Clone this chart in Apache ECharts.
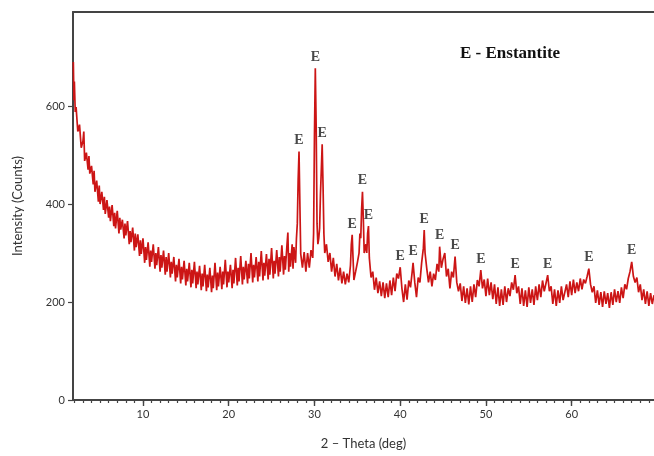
<!DOCTYPE html>
<html>
<head>
<meta charset="utf-8">
<script src="https://cdn.jsdelivr.net/npm/echarts@6/dist/echarts.min.js"></script>
<style>
  html, body { margin: 0; padding: 0; background: #fff; }
  #chart { width: 654px; height: 456px; }
</style>
</head>
<body>
<div id="chart"></div>
<script>
// XRD scan, [2-theta (deg), intensity (counts)]
const scanLowAngle = [
  [1.88, 690], [1.95, 612], [2.0, 650], [2.1, 588], [2.2, 598], [2.4, 548], [2.6, 562], [2.8, 515],
  [3.0, 528], [3.1, 548], [3.2, 488], [3.4, 505], [3.6, 470], [3.7, 498], [3.8, 462], [4.0, 478],
  [4.2, 440], [4.3, 468], [4.4, 425], [4.6, 448], [4.8, 405], [4.9, 438], [5.0, 400], [5.2, 425],
  [5.4, 388], [5.5, 415], [5.6, 380], [5.8, 408], [6.0, 372], [6.1, 395], [6.2, 365], [6.4, 398],
  [6.6, 355], [6.7, 382], [6.8, 350], [7.0, 386], [7.2, 340], [7.3, 372], [7.4, 348], [7.6, 368],
  [7.8, 330], [7.9, 360], [8.0, 336], [8.2, 365], [8.4, 318], [8.5, 345], [8.6, 322], [8.8, 352],
  [9.0, 305], [9.1, 340], [9.2, 312], [9.4, 338], [9.6, 294], [9.7, 326], [9.8, 298], [10.0, 330],
  [10.2, 280], [10.3, 312], [10.4, 286], [10.6, 322], [10.8, 272], [10.9, 305], [11.0, 282], [11.2, 318],
  [11.4, 268], [11.5, 300], [11.6, 275], [11.8, 312], [12.0, 262], [12.1, 296], [12.2, 270], [12.4, 305],
  [12.6, 256], [12.7, 292], [12.8, 262], [13.0, 300], [13.2, 250], [13.3, 282], [13.4, 258], [13.6, 292],
  [13.8, 242], [13.9, 276], [14.0, 250], [14.2, 288], [14.4, 238], [14.5, 272], [14.6, 246], [14.8, 284],
  [15.0, 234], [15.1, 268], [15.2, 242], [15.4, 280], [15.6, 230], [15.7, 266], [15.8, 238], [16.0, 282],
  [16.2, 228], [16.3, 262], [16.4, 236], [16.6, 274], [16.8, 224], [16.9, 258], [17.0, 232], [17.2, 276],
  [17.4, 222], [17.5, 256], [17.6, 230], [17.8, 270], [18.0, 220], [18.1, 254], [18.2, 228], [18.4, 280],
  [18.6, 224], [18.7, 260], [18.8, 232], [19.0, 272], [19.2, 226], [19.3, 262], [19.4, 236], [19.6, 286],
  [19.8, 230], [19.9, 262], [20.0, 240], [20.2, 276], [20.4, 228], [20.5, 266], [20.6, 238], [20.8, 290],
  [21.0, 234], [21.1, 270], [21.2, 242], [21.4, 294], [21.6, 236], [21.7, 272], [21.8, 246], [22.0, 284],
  [22.2, 238], [22.3, 278], [22.4, 248], [22.6, 300], [22.8, 240], [22.9, 276], [23.0, 250], [23.2, 292],
  [23.4, 242], [23.5, 282], [23.6, 252], [23.8, 304], [24.0, 244], [24.1, 280], [24.2, 254], [24.4, 298],
  [24.6, 246], [24.7, 288], [24.8, 256], [25.0, 310], [25.2, 248], [25.3, 284], [25.4, 258], [25.6, 306],
  [25.8, 252], [25.9, 292], [26.0, 262], [26.2, 316], [26.4, 256], [26.5, 294], [26.6, 266], [26.8, 318],
  [26.9, 342], [27.0, 262], [27.1, 300], [27.2, 272], [27.4, 318], [27.5, 268], [27.6, 312], [27.8, 280]
];

const scanPeakZone = [
  [27.9, 330], [28.0, 360], [28.1, 450], [28.2, 507], [28.3, 400], [28.4, 298], [28.6, 270], [28.8, 302],
  [29.0, 262], [29.2, 300], [29.4, 270], [29.6, 306], [29.8, 290], [29.9, 340], [30.0, 540], [30.1, 677],
  [30.2, 560], [30.3, 360], [30.4, 318], [30.5, 330], [30.6, 350], [30.7, 420], [30.8, 470], [30.9, 522],
  [31.0, 440], [31.1, 340], [31.2, 300], [31.4, 318], [31.6, 282], [31.8, 300], [32.0, 262], [32.2, 290],
  [32.4, 252], [32.6, 278], [32.8, 244], [33.0, 270], [33.2, 238], [33.4, 262], [33.6, 236], [33.8, 258],
  [34.0, 240], [34.2, 275], [34.3, 318], [34.4, 337], [34.5, 290], [34.6, 245], [34.8, 262], [35.0, 280],
  [35.2, 300], [35.3, 340], [35.4, 330], [35.5, 390], [35.6, 425], [35.7, 370], [35.8, 300], [36.0, 318],
  [36.1, 300], [36.2, 340], [36.3, 355], [36.4, 290], [36.6, 250], [36.8, 262], [37.0, 225]
];

const scanHighAngle = [
  [37.2, 250], [37.4, 218], [37.6, 242], [37.8, 212], [38.0, 240], [38.2, 208], [38.4, 238], [38.6, 210],
  [38.8, 244], [39.0, 214], [39.2, 250], [39.4, 222], [39.6, 258], [39.8, 248], [40.0, 271], [40.2, 228],
  [40.4, 200], [40.6, 236], [40.8, 205], [41.0, 244], [41.2, 230], [41.4, 262], [41.5, 280], [41.7, 240],
  [41.9, 210], [42.1, 250], [42.3, 240], [42.5, 280], [42.7, 310], [42.8, 347], [42.9, 300], [43.1, 268],
  [43.3, 240], [43.5, 262], [43.7, 232], [43.9, 258], [44.1, 245], [44.3, 278], [44.5, 262], [44.6, 313],
  [44.8, 270], [45.0, 288], [45.2, 300], [45.4, 252], [45.6, 268], [45.8, 228], [46.0, 262], [46.2, 250],
  [46.4, 293], [46.6, 240], [46.8, 222], [47.0, 238], [47.2, 202], [47.4, 232], [47.6, 198], [47.8, 228],
  [48.0, 195], [48.2, 232], [48.4, 200], [48.6, 236], [48.8, 210], [49.0, 245], [49.2, 232], [49.4, 265],
  [49.6, 228], [49.8, 246], [50.0, 212], [50.2, 248], [50.4, 214], [50.6, 240], [50.8, 206], [51.0, 236],
  [51.2, 196], [51.4, 230], [51.6, 192], [51.8, 226], [52.0, 194], [52.2, 232], [52.4, 200], [52.6, 228],
  [52.8, 212], [53.0, 240], [53.2, 225], [53.4, 255], [53.6, 218], [53.8, 232], [54.0, 196], [54.2, 228],
  [54.4, 192], [54.6, 224], [54.8, 190], [55.0, 230], [55.2, 198], [55.4, 226], [55.6, 194], [55.8, 232],
  [56.0, 204], [56.2, 236], [56.4, 210], [56.6, 244], [56.8, 222], [57.0, 238], [57.2, 255], [57.4, 222],
  [57.6, 232], [57.8, 196], [58.0, 226], [58.2, 192], [58.4, 224], [58.6, 198], [58.8, 232], [59.0, 204],
  [59.2, 206], [59.4, 236], [59.6, 210], [59.8, 242], [60.0, 214], [60.2, 246], [60.4, 218], [60.6, 240],
  [60.8, 222], [61.0, 248], [61.2, 226], [61.4, 246], [61.6, 238], [61.8, 252], [62.0, 268], [62.2, 236],
  [62.4, 220], [62.6, 232], [62.8, 198], [63.0, 224], [63.2, 194], [63.4, 220], [63.6, 190], [63.8, 222],
  [64.0, 196], [64.2, 218], [64.4, 188], [64.6, 220], [64.8, 194], [65.0, 226], [65.2, 200], [65.4, 222],
  [65.6, 198], [65.8, 230], [66.0, 208], [66.2, 236], [66.4, 226], [66.6, 248], [66.8, 262], [67.0, 282],
  [67.2, 252], [67.4, 240], [67.6, 250], [67.8, 220], [68.0, 236], [68.2, 204], [68.4, 226], [68.6, 196],
  [68.8, 222], [69.0, 192], [69.2, 218], [69.4, 196], [69.6, 214]
];

// Enstantite reflections marked with "E"
const enstatitePeaks = [
  [28.2, 507], [30.1, 677], [30.9, 522], [34.4, 337], [35.6, 425], [36.3, 355],
  [40.0, 271], [41.5, 280], [42.8, 347], [44.6, 313], [46.4, 293], [49.4, 265],
  [53.4, 255], [57.2, 255], [62.0, 268], [67.0, 282]
];

const xMajorTicks = [10, 20, 30, 40, 50, 60];
const xMinorTicks = [2,3,4,5,6,7,8,9,10,11,12,13,14,15,16,17,18,19,20,21,22,23,24,25,26,27,28,29,30,
  31,32,33,34,35,36,37,38,39,40,41,42,43,44,45,46,47,48,49,50,51,52,53,54,55,56,57,58,59,60,
  61,62,63,64,65,66,67,68,69];
const yTicks = [0, 200, 400, 600];

const X_MIN = 1.84, X_MAX = 69.6, Y_MAX = 792;
const axisColor = '#444';
const labelFont = 'Lato, "Open Sans", sans-serif';

const chart = echarts.init(document.getElementById('chart'), null, { renderer: 'canvas' });

const baseX = {
  type: 'value', min: X_MIN, max: X_MAX, splitLine: { show: false }
};

chart.setOption({
  animation: false,
  backgroundColor: '#fff',
  grid: { left: 73, right: 0, top: 12, bottom: 56, containLabel: false },
  xAxis: [
    Object.assign({}, baseX, {
      position: 'bottom',
      axisLine: { show: true, lineStyle: { color: axisColor, width: 2 } },
      axisTick: { show: true, length: 3, customValues: xMinorTicks, lineStyle: { color: axisColor, width: 1.2 } },
      axisLabel: { show: false }
    }),
    Object.assign({}, baseX, {
      position: 'bottom',
      axisLine: { show: false },
      axisTick: { show: true, length: 6, customValues: xMajorTicks, lineStyle: { color: axisColor, width: 1.4 } },
      axisLabel: { show: true, customValues: xMajorTicks, margin: 9, color: '#333', fontSize: 11, fontFamily: labelFont },
      name: '2 \u2013 Theta (deg)', nameLocation: 'middle', nameGap: 37,
      nameTextStyle: { color: '#333', fontSize: 13, fontFamily: labelFont }
    }),
    Object.assign({}, baseX, {
      position: 'top',
      axisLine: { show: true, lineStyle: { color: axisColor, width: 2 } },
      axisTick: { show: false },
      axisLabel: { show: false }
    })
  ],
  yAxis: {
    type: 'value', min: 0, max: Y_MAX,
    splitLine: { show: false },
    axisLine: { show: true, lineStyle: { color: axisColor, width: 2 } },
    axisTick: { show: true, length: 5, customValues: yTicks, lineStyle: { color: axisColor, width: 1.2 } },
    axisLabel: { customValues: yTicks, margin: 8, color: '#333', fontSize: 11, fontFamily: labelFont },
    name: 'Intensity (Counts)', nameLocation: 'middle', nameGap: 49,
    nameTextStyle: { color: '#333', fontSize: 13, fontFamily: labelFont }
  },
  graphic: [{
    type: 'text', left: 460, top: 45,
    style: { text: 'E - Enstantite', fill: '#111', font: 'bold 17px "Liberation Serif", serif' }
  }],
  series: [
    {
      type: 'line',
      data: scanLowAngle.concat(scanPeakZone, scanHighAngle),
      showSymbol: false,
      sampling: false,
      lineStyle: { color: '#cc1515', width: 1.7 },
      z: 2
    },
    {
      type: 'scatter',
      data: enstatitePeaks,
      symbolSize: 0,
      label: {
        show: true, position: 'top', distance: 4, formatter: 'E',
        color: '#1a1a1a', fontSize: 14, fontWeight: 'bold',
        fontFamily: '"Liberation Serif", "DejaVu Serif", serif'
      },
      z: 3
    }
  ]
});
</script>
</body>
</html>
